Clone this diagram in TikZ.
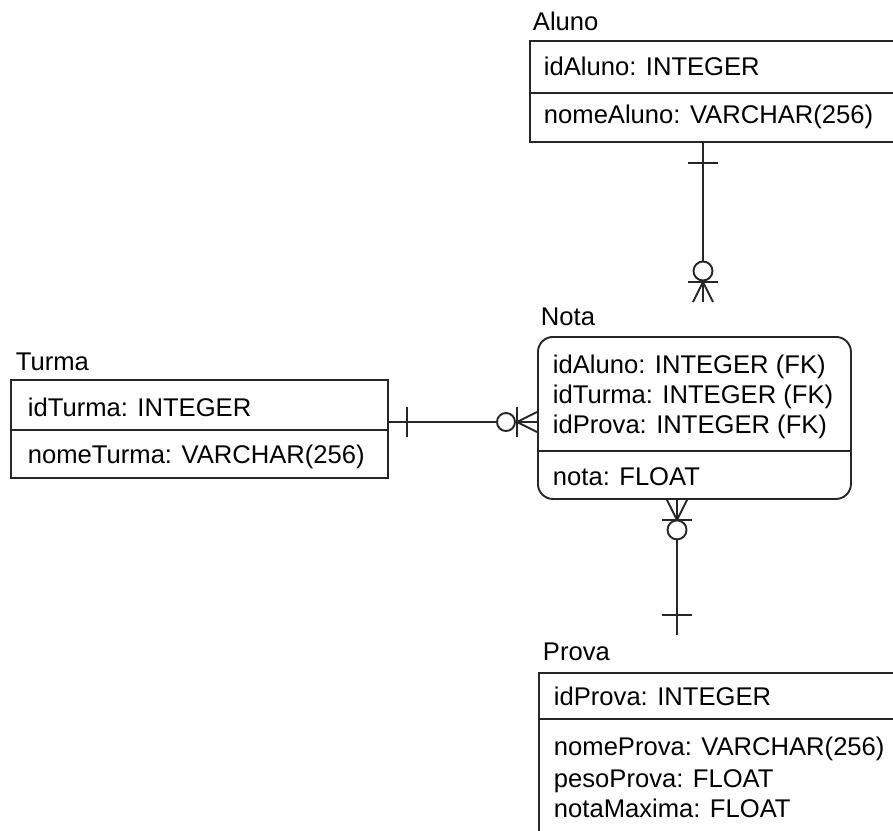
\documentclass[tikz,border=0pt]{standalone}
\usepackage{fontspec}
\setmainfont{Liberation Sans}
\usetikzlibrary{calc}
\begin{document}
\begin{tikzpicture}[x=1pt,y=-1pt, line width=1.9pt, draw=black!85,
  lbl/.style={anchor=base west, inner sep=0pt, font=\fontsize{25.6}{30}\selectfont, text=black},
  ent/.style={draw=black!85, inner sep=0pt, anchor=north west, line width=1.9pt},
  link/.style={draw=black!85, line width=1.9pt},
  zerocircle/.style={draw=black!85, fill=white, line width=1.9pt},
]
\useasboundingbox (0,0) rectangle (893,830);
\clip (0,0) rectangle (893,830);

% ---------------- Aluno ----------------
\node[ent, minimum width=380pt, minimum height=101pt] (aluno) at (529,40) {};
\draw ($(aluno.north west)+(0,53)$) -- ($(aluno.north east)+(0,53)$);
\node[lbl] (alunoT) at (532,30) {Aluno};
\node[lbl] (alunoA1) at (543,75) {idAluno: INTEGER};
\node[lbl] (alunoA2) at (543,123) {nomeAluno: VARCHAR(256)};

% ---------------- Nota ----------------
\node[ent, rounded corners=15pt, minimum width=313pt, minimum height=162pt] (nota) at (537,336) {};
\draw ($(nota.north west)+(0,115)$) -- ($(nota.north east)+(0,115)$);
\node[lbl] (notaT) at (540,325) {Nota};
\node[lbl] (notaA1) at (552,373) {idAluno: INTEGER (FK)};
\node[lbl] (notaA2) at (552,403) {idTurma: INTEGER (FK)};
\node[lbl] (notaA3) at (552,433) {idProva: INTEGER (FK)};
\node[lbl] (notaA4) at (552,485) {nota: FLOAT};

% ---------------- Turma ----------------
\node[ent, minimum width=377pt, minimum height=98pt] (turma) at (10,379) {};
\draw ($(turma.north west)+(0,51)$) -- ($(turma.north east)+(0,51)$);
\node[lbl] (turmaT) at (15,370) {Turma};
\node[lbl] (turmaA1) at (27,416) {idTurma: INTEGER};
\node[lbl] (turmaA2) at (27,463) {nomeTurma: VARCHAR(256)};

% ---------------- Prova ----------------
\node[ent, minimum width=380pt, minimum height=200pt] (prova) at (538,672) {};
\draw ($(prova.north west)+(0,47)$) -- ($(prova.north east)+(0,47)$);
\node[lbl] (provaT) at (542,660) {Prova};
\node[lbl] (provaA1) at (553,705) {idProva: INTEGER};
\node[lbl] (provaA2) at (553,755) {nomeProva: VARCHAR(256)};
\node[lbl] (provaA3) at (553,787) {pesoProva: FLOAT};
\node[lbl] (provaA4) at (553,817) {notaMaxima: FLOAT};

% ---------------- Aluno -- Nota ----------------
\coordinate (alunoEnd) at ($(aluno.south west)+(174,0)$);
\coordinate (notaTop) at ($(nota.north west)+(166,-34)$);
\draw[link] (alunoEnd) -- (notaTop);
\draw[link] ($(alunoEnd)+(-15,20)$) -- ($(alunoEnd)+(15,20)$);
\draw[link] ($(notaTop)+(-10,0)$) -- ($(notaTop)+(0,-20)$) -- ($(notaTop)+(10,0)$);
\draw[link] ($(notaTop)+(-15,-20)$) -- ($(notaTop)+(15,-20)$);
\draw[zerocircle] ($(notaTop)+(0,-31)$) circle (9.5pt);

% ---------------- Turma -- Nota ----------------
\coordinate (turmaEnd) at ($(turma.north east)+(0,43)$);
\coordinate (notaLeft) at ($(nota.north west)+(0,86)$);
\draw[link] (turmaEnd) -- (notaLeft);
\draw[link] ($(turmaEnd)+(18,-15)$) -- ($(turmaEnd)+(18,15)$);
\draw[link] ($(notaLeft)+(0,-10)$) -- ($(notaLeft)+(-20,0)$) -- ($(notaLeft)+(0,10)$);
\draw[link] ($(notaLeft)+(-20,-15)$) -- ($(notaLeft)+(-20,15)$);
\draw[zerocircle] ($(notaLeft)+(-31,0)$) circle (9pt);

% ---------------- Nota -- Prova ----------------
\coordinate (notaBottom) at ($(nota.south west)+(140,0)$);
\coordinate (provaTop) at ($(prova.north west)+(139,-37)$);
\draw[link] (notaBottom) -- (provaTop);
\draw[link] ($(notaBottom)+(-10,0)$) -- ($(notaBottom)+(0,20)$) -- ($(notaBottom)+(10,0)$);
\draw[link] ($(notaBottom)+(-15,20)$) -- ($(notaBottom)+(15,20)$);
\draw[zerocircle] ($(notaBottom)+(0,30)$) circle (9.5pt);
\draw[link] ($(provaTop)+(-15,-20)$) -- ($(provaTop)+(15,-20)$);
\end{tikzpicture}
\end{document}
